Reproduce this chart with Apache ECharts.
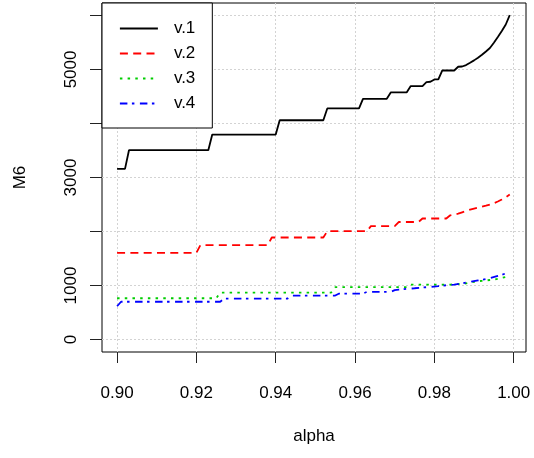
<!DOCTYPE html>
<html><head><meta charset="utf-8">
<script src="https://cdn.jsdelivr.net/npm/echarts@6/dist/echarts.min.js"></script>
<style>html,body{margin:0;padding:0;background:#fff}#c{width:534px;height:458px}</style>
</head><body><div id="c"></div>
<script>
// ---- data ----
const seriesNames = ['v.1', 'v.2', 'v.3', 'v.4'];
const xTicks = [0.90, 0.92, 0.94, 0.96, 0.98, 1.00];
const yTicks = [0, 1000, 2000, 3000, 4000, 5000, 6000];
const yLabels = [0, 1000, 3000, 5000];

const alpha1 = [0.900,0.902,0.903,0.923,0.924,0.940,0.941,0.952,0.953,0.961,0.962,0.968,0.969,0.973,0.974,0.977,0.978,0.979,0.980,0.981,0.982,0.985,0.986,0.987,0.988,0.989,0.990,0.991,0.992,0.993,0.994,0.995,0.996,0.997,0.998,0.999];
const v1 = [3160,3160,3505,3505,3795,3795,4060,4060,4278,4278,4457,4457,4575,4575,4691,4691,4765,4772,4815,4815,4981,4981,5050,5055,5081,5124,5168,5217,5271,5333,5396,5494,5600,5712,5832,6006];

const alpha2 = [0.900,0.920,0.921,0.938,0.939,0.952,0.953,0.963,0.964,0.970,0.971,0.976,0.977,0.983,0.984,0.985,0.986,0.987,0.988,0.989,0.990,0.991,0.992,0.993,0.994,0.995,0.996,0.997,0.998,0.999];
const v2 = [1605,1605,1747,1747,1889,1889,2006,2006,2099,2099,2176,2176,2241,2241,2300,2315,2330,2355,2380,2405,2426,2442,2460,2478,2497,2525,2555,2593,2635,2685];

const alpha3 = [0.900,0.925,0.926,0.954,0.955,0.973,0.974,0.984,0.985,0.986,0.987,0.988,0.989,0.990,0.991,0.992,0.993,0.994,0.995,0.996,0.997,0.998,0.999];
const v3 = [765,765,870,870,969,969,1018,1018,1022,1027,1031,1040,1055,1068,1080,1088,1095,1103,1111,1126,1142,1158,1173];

const alpha4 = [0.900,0.901,0.926,0.927,0.943,0.944,0.955,0.956,0.962,0.963,0.969,0.970,0.971,0.973,0.975,0.977,0.979,0.981,0.983,0.985,0.987,0.989,0.991,0.993,0.994,0.996,0.997,0.998,0.999];
const v4 = [617,700,700,759,759,815,815,852,852,883,883,915,926,938,950,963,975,990,1006,1018,1040,1070,1095,1120,1136,1180,1200,1225,1247];

// ---- chart ----
const pairs = (xs, ys) => xs.map((x, i) => [x, ys[i]]);
const FONT = 'Liberation Sans';
const chart = echarts.init(document.getElementById('c'), null, {renderer: 'canvas'});

const mk = (name, xs, ys, color, type) => ({
  name, type: 'line', data: pairs(xs, ys), symbol: 'none', showSymbol: false,
  lineStyle: {color, width: 1.8, type, cap: 'butt'}, itemStyle: {color},
  emphasis: {disabled: true}, z: 3
});

chart.setOption({
  animation: false,
  backgroundColor: '#fff',
  textStyle: {fontFamily: FONT},
  grid: {left: 102, right: 8, top: 3, bottom: 106, show: true, borderColor: '#000', borderWidth: 1, backgroundColor: 'transparent'},
  legend: {
    data: seriesNames, orient: 'vertical', left: 102, top: 3,
    padding: [17, 17, 16, 17], itemWidth: 38, itemHeight: 14, itemGap: 8,
    backgroundColor: '#fff', borderColor: '#000', borderWidth: 1, borderRadius: 0,
    itemStyle: {opacity: 0},
    lineStyle: {width: 1.8},
    textStyle: {fontSize: 17, color: '#000', fontFamily: FONT, padding: [0, 0, 0, 11]},
    selectedMode: false, z: 10
  },
  xAxis: {
    type: 'value', min: 0.8962, max: 1.0031,
    axisLine: {show: false, onZero: false},
    axisTick: {show: true, customValues: xTicks, length: 11, inside: false, lineStyle: {color: '#222', width: 1}},
    axisLabel: {customValues: xTicks, formatter: v => v.toFixed(2), fontSize: 17, color: '#000', margin: 33, fontFamily: FONT},
    splitLine: {show: true, lineStyle: {color: '#d3d3d3', type: [2, 2], width: 1}},
    name: 'alpha', nameLocation: 'middle', nameGap: 76,
    nameTextStyle: {fontSize: 17, color: '#000', fontFamily: FONT}
  },
  yAxis: {
    type: 'value', min: -230, max: 6230,
    axisLine: {show: false, onZero: false},
    axisTick: {show: true, customValues: yTicks, length: 12, inside: false, lineStyle: {color: '#222', width: 1}},
    axisLabel: {customValues: yLabels, formatter: v => String(v), rotate: 90, fontSize: 17, color: '#000', margin: 22, fontFamily: FONT},
    splitLine: {show: true, lineStyle: {color: '#d3d3d3', type: [2, 2], width: 1}},
    name: 'M6', nameLocation: 'middle', nameGap: 73, nameRotate: 90,
    nameTextStyle: {fontSize: 17, color: '#000', fontFamily: FONT}
  },
  series: [
    mk(seriesNames[0], alpha1, v1, '#000000', 'solid'),
    mk(seriesNames[1], alpha2, v2, '#ff0000', [8, 5.3]),
    mk(seriesNames[2], alpha3, v3, '#00cd00', [2.5, 5.2]),
    mk(seriesNames[3], alpha4, v4, '#0000ff', [7.5, 4.5, 2.5, 5.5])
  ]
});
</script>
</body></html>
